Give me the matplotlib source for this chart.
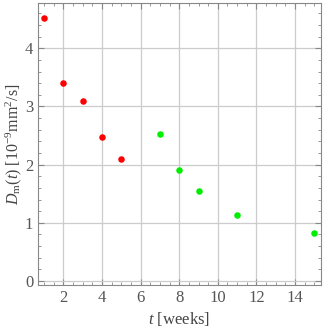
import matplotlib
matplotlib.use('Agg')
import matplotlib.pyplot as plt
from matplotlib.ticker import MultipleLocator

# early measurements (red) and later ones (green)
t_red = [1, 2, 3, 4, 5]
d_red = [4.53, 3.41, 3.10, 2.47, 2.09]
t_green = [7, 8, 9, 11, 15]
d_green = [2.52, 1.91, 1.55, 1.13, 0.83]

plt.rcParams['font.family'] = ['Liberation Serif', 'DejaVu Serif']
plt.rcParams['mathtext.fontset'] = 'custom'
plt.rcParams['mathtext.it'] = 'Liberation Serif:italic'
plt.rcParams['mathtext.rm'] = 'Liberation Serif'

fig = plt.figure(figsize=(3.24, 3.34), dpi=100)
ax = fig.add_axes([38/324, 1 - 285/334, 283/324, 282/334])

ax.scatter(t_red, d_red, s=22, color='#ff0000', zorder=3, linewidths=0)
ax.scatter(t_green, d_green, s=22, color='#00ee00', zorder=3, linewidths=0)

ax.set_xlim(0.68, 15.35)
ax.set_ylim(-0.07, 4.78)
ax.xaxis.set_major_locator(MultipleLocator(2))
ax.xaxis.set_minor_locator(MultipleLocator(0.5))
ax.yaxis.set_major_locator(MultipleLocator(1))
ax.yaxis.set_minor_locator(MultipleLocator(0.2))
ax.grid(True, which='major', color='#cccccc', linewidth=0.9)
ax.set_axisbelow(True)

ax.tick_params(which='both', direction='in', top=True, right=True, colors='#888888',
               labelcolor='#555555', labelsize=12)
ax.tick_params(which='major', length=4)
ax.tick_params(which='minor', length=2)
for s in ax.spines.values():
    s.set_color('#888888')

ax.set_xlabel(r'$t$ [weeks]', fontsize=12, color='#444444', labelpad=3)
ax.set_ylabel(r'$D_{\mathrm{m}}(t)$ [10$^{-9}$mm$^2$/s]', fontsize=11.5, color='#444444')
ax.yaxis.set_label_coords(-0.05, 0.5)

fig.savefig('out.png', dpi=100)
